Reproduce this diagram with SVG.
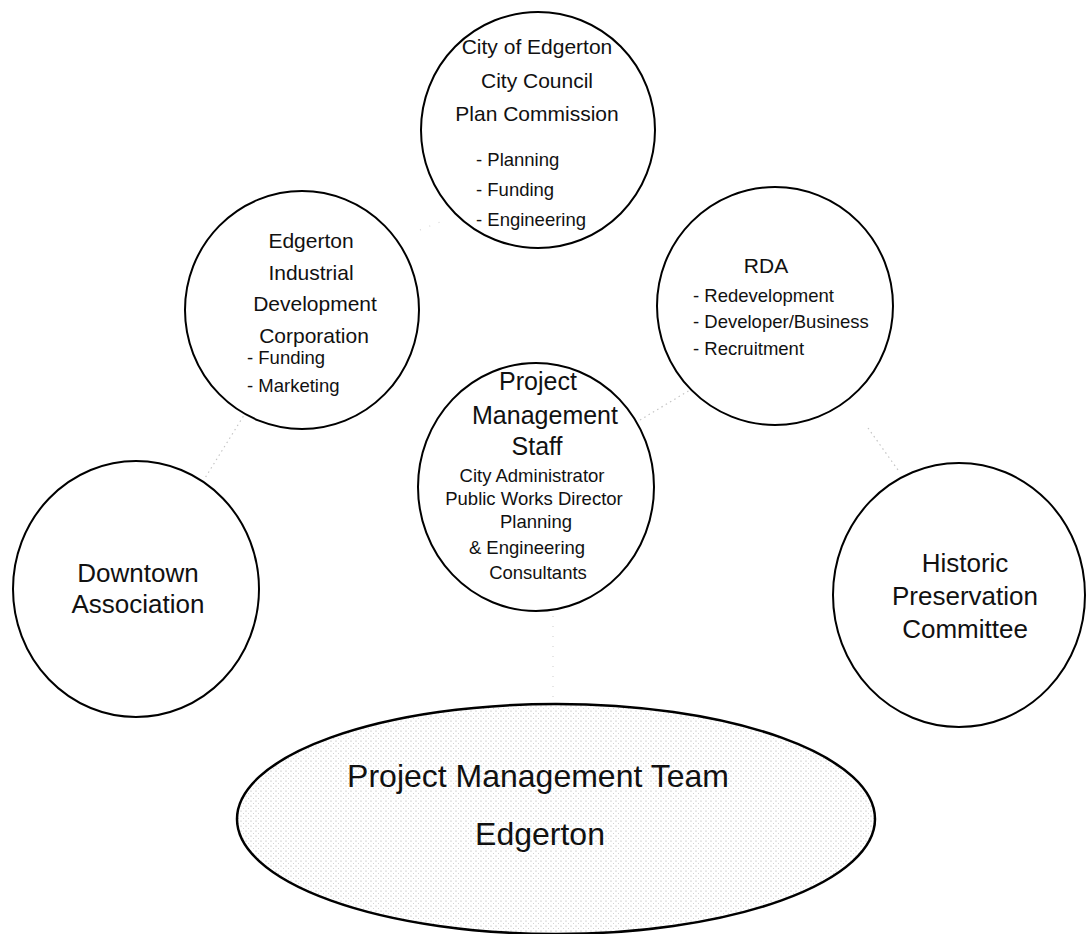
<svg xmlns="http://www.w3.org/2000/svg" width="1086" height="934" viewBox="0 0 1086 934">
  <defs>
    <!-- light stipple used for the team ellipse -->
    <pattern id="stipple" width="5" height="5" patternUnits="userSpaceOnUse">
      <rect width="5" height="5" fill="#ffffff"/>
      <circle cx="1" cy="1" r="0.6" fill="#a6a6a6"/>
      <circle cx="3.5" cy="3.5" r="0.5" fill="#c6c6c6"/>
    </pattern>
  </defs>
  <style>
    .ring { fill: #ffffff; stroke: #000000; stroke-width: 2; }
    .team { fill: url(#stipple); stroke: #000000; stroke-width: 2.5; }
    .link { stroke: #c4c4c4; stroke-width: 1.2; stroke-dasharray: 1.5 3.5; fill: none; }
    .link.faint { stroke: #d6d6d6; stroke-dasharray: 1 9; }
    text { font-family: "Liberation Sans", Arial, sans-serif; fill: #111111; }
    .head { font-size: 21px; text-anchor: middle; }
    .lead { font-size: 25px; text-anchor: middle; }
    .big { font-size: 26px; text-anchor: middle; }
    .item { font-size: 18.5px; }
    .staff { font-size: 18.5px; text-anchor: middle; }
    .title { font-size: 32px; text-anchor: middle; }
  </style>
  <rect width="1086" height="934" fill="#ffffff"/>

  <!-- faint dotted links between the groups -->
  <g id="connectors">
    <line class="link" x1="246" y1="412" x2="205" y2="478"/>
    <line class="link" x1="640" y1="420" x2="690" y2="390"/>
    <line class="link" x1="868" y1="428" x2="898" y2="470"/>
    <line class="link faint" x1="553" y1="616" x2="553" y2="704"/>
    <line class="link faint" x1="420" y1="230" x2="440" y2="222"/>
  </g>

  <g id="city-of-edgerton">
    <ellipse class="ring" cx="538" cy="130" rx="117" ry="118"/>
    <text class="head" x="537" y="54">City of Edgerton</text>
    <text class="head" x="537" y="88">City Council</text>
    <text class="head" x="537" y="121">Plan Commission</text>
    <text class="item" x="476" y="166">- Planning</text>
    <text class="item" x="476" y="196">- Funding</text>
    <text class="item" x="476" y="226">- Engineering</text>
  </g>

  <g id="industrial-development">
    <ellipse class="ring" cx="302" cy="310" rx="117" ry="119"/>
    <text class="head" x="311" y="248">Edgerton</text>
    <text class="head" x="311" y="280">Industrial</text>
    <text class="head" x="315" y="311">Development</text>
    <text class="head" x="314" y="343">Corporation</text>
    <text class="item" x="247" y="364">- Funding</text>
    <text class="item" x="247" y="392">- Marketing</text>
  </g>

  <g id="rda">
    <ellipse class="ring" cx="775" cy="306" rx="118" ry="119"/>
    <text class="head" x="766" y="273">RDA</text>
    <text class="item" x="693" y="302">- Redevelopment</text>
    <text class="item" x="693" y="328">- Developer/Business</text>
    <text class="item" x="693" y="355">- Recruitment</text>
  </g>

  <g id="project-management-staff">
    <ellipse class="ring" cx="536" cy="487" rx="118" ry="124"/>
    <text class="lead" x="538" y="390">Project</text>
    <text class="lead" x="545" y="424">Management</text>
    <text class="lead" x="537" y="455">Staff</text>
    <text class="staff" x="532" y="482">City Administrator</text>
    <text class="staff" x="534" y="505">Public Works Director</text>
    <text class="staff" x="536" y="528">Planning</text>
    <text class="staff" x="527" y="554">&amp; Engineering</text>
    <text class="staff" x="538" y="579">Consultants</text>
  </g>

  <g id="downtown-association">
    <ellipse class="ring" cx="136" cy="589" rx="123" ry="128"/>
    <text class="big" x="138" y="582">Downtown</text>
    <text class="big" x="138" y="613">Association</text>
  </g>

  <g id="historic-preservation">
    <ellipse class="ring" cx="959" cy="595" rx="126" ry="132"/>
    <text class="big" x="965" y="572">Historic</text>
    <text class="big" x="965" y="605">Preservation</text>
    <text class="big" x="965" y="638">Committee</text>
  </g>

  <g id="project-management-team">
    <ellipse class="team" cx="556" cy="819" rx="319" ry="115"/>
    <text class="title" x="538" y="787">Project Management Team</text>
    <text class="title" x="540" y="845">Edgerton</text>
  </g>
</svg>
